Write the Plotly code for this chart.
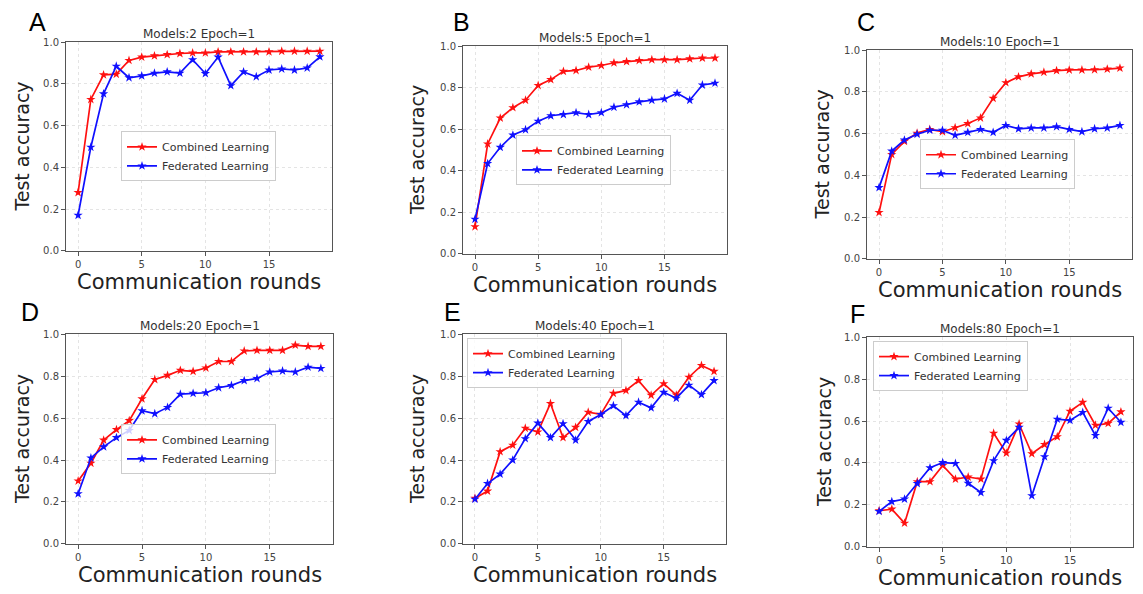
import plotly.graph_objects as go

rounds = list(range(20))

titles = ["Models:2 Epoch=1", "Models:5 Epoch=1", "Models:10 Epoch=1",
          "Models:20 Epoch=1", "Models:40 Epoch=1", "Models:80 Epoch=1"]
letters = ["A", "B", "C", "D", "E", "F"]

combined_a = [0.28, 0.726, 0.844, 0.847, 0.913, 0.929, 0.935, 0.941, 0.946, 0.949,
              0.949, 0.954, 0.954, 0.954, 0.954, 0.954, 0.957, 0.957, 0.957, 0.957]
federated_a = [0.171, 0.497, 0.753, 0.885, 0.830, 0.839, 0.852, 0.858, 0.852, 0.916,
               0.850, 0.929, 0.792, 0.858, 0.835, 0.867, 0.872, 0.867, 0.877, 0.930]

combined_b = [0.131, 0.529, 0.654, 0.704, 0.740, 0.811, 0.839, 0.879, 0.883, 0.899,
              0.907, 0.920, 0.926, 0.931, 0.935, 0.935, 0.935, 0.939, 0.943, 0.943]
federated_b = [0.167, 0.435, 0.513, 0.572, 0.598, 0.639, 0.665, 0.671, 0.680, 0.671,
               0.680, 0.706, 0.718, 0.732, 0.740, 0.746, 0.773, 0.740, 0.813, 0.822]

combined_c = [0.222, 0.500, 0.563, 0.602, 0.620, 0.609, 0.628, 0.648, 0.675, 0.769,
              0.844, 0.872, 0.886, 0.894, 0.902, 0.905, 0.905, 0.906, 0.909, 0.914]
federated_c = [0.341, 0.516, 0.569, 0.597, 0.616, 0.616, 0.592, 0.606, 0.620, 0.606,
               0.639, 0.623, 0.627, 0.627, 0.633, 0.620, 0.609, 0.623, 0.627, 0.639]

combined_d = [0.300, 0.385, 0.495, 0.545, 0.588, 0.692, 0.784, 0.804, 0.828, 0.823,
              0.839, 0.870, 0.870, 0.920, 0.923, 0.923, 0.923, 0.948, 0.942, 0.942]
federated_d = [0.239, 0.410, 0.463, 0.507, 0.541, 0.635, 0.621, 0.651, 0.714, 0.718,
               0.721, 0.745, 0.756, 0.779, 0.789, 0.820, 0.825, 0.820, 0.843, 0.837]

combined_e = [0.218, 0.252, 0.440, 0.471, 0.552, 0.534, 0.670, 0.507, 0.556, 0.628,
              0.618, 0.718, 0.732, 0.779, 0.709, 0.764, 0.710, 0.795, 0.851, 0.823]
federated_e = [0.213, 0.288, 0.333, 0.400, 0.502, 0.576, 0.507, 0.573, 0.495, 0.584,
               0.617, 0.659, 0.612, 0.676, 0.649, 0.723, 0.695, 0.757, 0.712, 0.779]

combined_f = [0.172, 0.180, 0.113, 0.311, 0.311, 0.388, 0.323, 0.333, 0.323, 0.542,
              0.447, 0.586, 0.444, 0.488, 0.525, 0.647, 0.689, 0.580, 0.589, 0.644]
federated_f = [0.169, 0.216, 0.228, 0.302, 0.377, 0.402, 0.398, 0.303, 0.259, 0.411,
               0.508, 0.570, 0.244, 0.430, 0.609, 0.603, 0.641, 0.531, 0.661, 0.594]

combined = [combined_a, combined_b, combined_c, combined_d, combined_e, combined_f]
federated = [federated_a, federated_b, federated_c, federated_d, federated_e, federated_f]

x_ticks = [0, 5, 10, 15]
y_ticks = [0.0, 0.2, 0.4, 0.6, 0.8, 1.0]

W, H = 1143, 594
# plot boxes in pixels: (left, right, top, bottom)
boxes = [(66, 332, 37, 250), (463, 727, 41, 253), (867, 1132, 45, 258),
         (66, 333, 335, 549), (463, 726, 335, 549), (867, 1133, 338, 552)]
# legend top-left in pixels
legend_pos = [(121, 128), (516, 132), (920, 136), (121, 427), (467, 339), (873, 342)]
letter_pos = [(37, 16), (461, 16), (866, 16), (30, 312), (452, 312), (857, 314)]
ylabel_x = [22, 417, 822, 22, 417, 824]

FONT = "DejaVu Sans"
fig = go.Figure()
layout = dict(
    width=W, height=H, margin=dict(l=0, r=0, t=0, b=0),
    paper_bgcolor="white", plot_bgcolor="white", showlegend=True,
    annotations=[],
)

for i in range(6):
    n = "" if i == 0 else str(i + 1)
    left, right, top, bottom = boxes[i]
    leg = "legend" if i == 0 else "legend" + str(i + 1)
    fig.add_trace(go.Scatter(
        x=rounds, y=combined[i], mode="lines+markers", name="Combined Learning",
        line=dict(color="#ff1010", width=1.7),
        marker=dict(symbol="star", size=7, color="#ff1010"),
        xaxis="x" + n, yaxis="y" + n, legend=leg))
    fig.add_trace(go.Scatter(
        x=rounds, y=federated[i], mode="lines+markers", name="Federated Learning",
        line=dict(color="#1010ff", width=1.7),
        marker=dict(symbol="star", size=7, color="#1010ff"),
        xaxis="x" + n, yaxis="y" + n, legend=leg))
    common = dict(showline=True, mirror=True, linecolor="#555", linewidth=1,
                  ticks="outside", ticklen=4, tickcolor="#555",
                  showgrid=True, gridcolor="#e4e4e4", griddash="dot", gridwidth=1,
                  zeroline=False,
                  tickfont=dict(family=FONT, size=10, color="#444"))
    layout["xaxis" + n] = dict(common, domain=[left / W, right / W],
                               range=[-0.95, 19.95], tickvals=x_ticks,
                               anchor="y" + n)
    layout["yaxis" + n] = dict(common, domain=[1 - bottom / H, 1 - top / H],
                               range=[0, 1], tickvals=y_ticks, tickformat=".1f",
                               anchor="x" + n)
    lx, ly = legend_pos[i]
    layout[leg] = dict(x=lx / W, y=1 - ly / H, xanchor="left", yanchor="top",
                       bgcolor="rgba(255,255,255,0.8)", bordercolor="#cccccc",
                       borderwidth=1, font=dict(family=FONT, size=11, color="#333"),
                       tracegroupgap=0, itemwidth=30)
    cx = (left + right) / 2
    layout["annotations"] += [
        dict(text=titles[i], x=cx / W, y=1 - (top - 8) / H, xref="paper", yref="paper",
             xanchor="center", yanchor="middle", showarrow=False,
             font=dict(family=FONT, size=12, color="#333")),
        dict(text="Communication rounds", x=cx / W, y=1 - (bottom + 32) / H,
             xref="paper", yref="paper", xanchor="center", yanchor="middle",
             showarrow=False, font=dict(family=FONT, size=21, color="#222")),
        dict(text="Test accuracy", x=ylabel_x[i] / W, y=1 - ((top + bottom) / 2) / H,
             xref="paper", yref="paper", xanchor="center", yanchor="middle",
             showarrow=False, textangle=-90,
             font=dict(family=FONT, size=19, color="#222")),
        dict(text=letters[i], x=letter_pos[i][0] / W, y=1 - letter_pos[i][1] / H,
             xref="paper", yref="paper", xanchor="center", yanchor="middle",
             showarrow=False,
             font=dict(family="Liberation Sans", size=25, color="black")),
    ]

fig.update_layout(**layout)
fig.write_html("out.html")
